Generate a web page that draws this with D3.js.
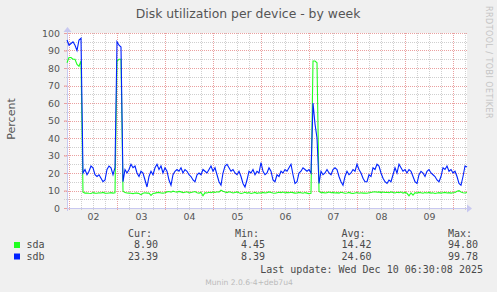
<!DOCTYPE html>
<html>
<head>
<meta charset="utf-8">
<script src="https://cdn.jsdelivr.net/npm/d3@7"></script>
<style>
  body { margin: 0; background: #f0f0f0; }
  #chart { width: 497px; height: 292px; }
  text { font-family: "DejaVu Sans", sans-serif; fill: #555; }
  .mono { font-family: "DejaVu Sans Mono", monospace; fill: #4a4a4a; }
</style>
</head>
<body>
<div id="chart"></div>
<script>
// one sample per hour, starting Dec 1 23:00
const startTime = new Date(2025, 11, 1, 23, 0);
const endTime = new Date(2025, 11, 10, 7, 0);

const sdaValues = [
  83, 86, 86, 85, 85, 82, 81, 84,
  9.0, 8.5, 8.6, 8.4, 8.3, 8.8, 8.5, 8.4, 8.7, 8.6, 8.9, 8.5, 8.4, 8.6, 8.8, 8.5, 8.7,
  84, 85, 85,
  9.6, 8.8, 8.6, 8.5, 8.4, 8.2, 8.6, 8.5, 8.3, 7.6, 8.4, 8.7, 8.5, 8.6, 7.2, 8.3, 8.5, 8.8, 8.9, 8.6, 8.5, 8.7,
  9.2, 9.4, 9.0, 9.6, 9.3, 9.1, 9.5, 9.2, 8.8, 9.0,
  9.3, 8.6, 8.9, 9.1, 9.4, 8.7, 8.5, 8.9, 7.0, 8.8,
  8.6, 9.0, 8.7, 9.2, 8.9, 9.3, 9.0, 10.2, 9.6, 9.1,
  8.8, 9.3, 9.0, 8.6, 8.9, 9.2, 8.7, 8.3, 8.6, 9.0,
  8.5, 8.8, 8.3, 8.6, 8.9, 8.4, 8.7, 8.5, 8.9, 8.6,
  8.8, 9.2, 8.9, 8.6, 8.4, 8.7, 9.0, 8.8, 9.1, 8.6, 8.9, 8.7, 9.0, 8.8, 8.5, 8.6, 8.9, 8.7, 8.4, 8.8, 8.5, 8.2, 8.4,
  84, 84, 83,
  9.4, 8.7, 8.9, 8.6, 8.8, 9.1, 8.7, 8.9, 8.6, 8.8, 8.5, 9.0, 8.7, 8.4, 8.6, 8.9, 8.5, 8.3, 8.6, 8.8, 8.4, 8.7, 8.5, 8.6,
  8.4, 8.7, 8.9, 9.1, 9.3, 9.0, 9.2, 8.8, 9.1, 8.9,
  9.0, 8.7, 9.2, 8.9, 8.6, 9.0, 8.8, 9.1, 8.5, 8.9,
  8.4, 7.0, 8.6, 7.3, 8.8, 8.5, 8.9, 8.7, 8.4, 8.8,
  8.6, 8.9, 8.5, 8.7, 8.3, 8.6, 8.8, 8.5, 8.7, 8.9,
  8.6, 8.8, 8.5, 8.7, 8.9, 9.6, 9.9, 9.2, 8.7, 8.6,
  8.9
];

const sdbValues = [
  96, 93, 94, 95, 93, 90, 96, 97,
  20, 22, 19, 21, 24, 23, 19, 18, 19, 17, 15, 16, 22, 24, 23, 19, 23,
  95, 93, 92,
  15, 22, 20, 22, 25, 23, 24, 20, 18, 21, 20, 16, 12, 18, 21, 19, 23, 25, 22, 24, 20, 23,
  21, 16, 13, 19, 21, 22, 21, 23, 20, 22,
  21, 19, 18, 16, 15, 19, 20, 19, 22, 21,
  20, 22, 24, 21, 23, 19, 15, 13, 20, 24,
  25, 23, 21, 22, 20, 19, 21, 18, 14, 12,
  16, 21, 20, 22, 19, 21, 20, 26, 21, 19,
  20, 23, 21, 16, 15, 19, 18, 21, 20, 22, 21, 23, 25, 19, 14, 15, 20, 21, 23, 22, 21, 22, 20,
  60, 48, 40,
  14, 21, 19, 20, 22, 20, 19, 22, 23, 22, 18, 15, 13, 18, 21, 19, 20, 22, 21, 25, 22, 20, 17, 15,
  15, 19, 18, 23, 22, 25, 24, 20, 17, 15,
  14, 16, 15, 19, 23, 20, 25, 23, 21, 22,
  20, 22, 21, 18, 15, 14, 19, 21, 20, 18,
  21, 22, 20, 19, 18, 16, 15, 18, 23, 22,
  24, 21, 22, 20, 21, 18, 14, 13, 18, 24,
  23.4
];

// x labels sit at noon of each day
const dayTicks = [2, 3, 4, 5, 6, 7, 8, 9].map(d => new Date(2025, 11, d, 12, 0));
const yTicks = [0, 10, 20, 30, 40, 50, 60, 70, 80, 90, 100];

const seriesNames = ["sda", "sdb"];
const curValues = ["8.90", "23.39"];
const minValues = ["4.45", "8.39"];
const avgValues = ["14.42", "24.60"];
const maxValues = ["94.80", "99.78"];
const lastUpdate = "Last update: Wed Dec 10 06:30:08 2025";

const seriesColors = ["#22ff22", "#0022ff"];

class DiskUtilVis {
  constructor(_parentElement) {
    this.parentElement = _parentElement;
    this.initVis();
  }

  initVis() {
    let vis = this;

    vis.margin = { top: 33, right: 30, bottom: 84, left: 67 };
    vis.width = 497 - vis.margin.left - vis.margin.right;
    vis.height = 292 - vis.margin.top - vis.margin.bottom;

    vis.root = d3.select("#" + vis.parentElement).append("svg")
        .attr("width", 497)
        .attr("height", 292);

    vis.root.append("rect")
        .attr("width", 497)
        .attr("height", 292)
        .attr("fill", "#f0f0f0");

    vis.svg = vis.root.append("g")
        .attr("transform", "translate(" + vis.margin.left + "," + vis.margin.top + ")");

    // plot canvas
    vis.svg.append("rect")
        .attr("width", vis.width)
        .attr("height", vis.height)
        .attr("fill", "#ffffff");

    vis.x = d3.scaleTime()
        .domain([startTime, endTime])
        .range([0, vis.width]);

    vis.y = d3.scaleLinear()
        .domain([0, 100])
        .range([vis.height, 0]);

    vis.wrangleData();
  }

  wrangleData() {
    let vis = this;

    vis.series = [sdaValues, sdbValues].map((vals, s) => ({
      name: seriesNames[s],
      color: seriesColors[s],
      values: vals.map((v, i) => ({ time: d3.timeHour.offset(startTime, i), value: v }))
    }));

    vis.updateVis();
  }

  updateVis() {
    let vis = this;
    let crisp = v => Math.round(v) + 0.5;

    // grid: minor (grey) and major (red) dotted lines
    let grid = vis.svg.append("g").attr("class", "grid");

    let sixHours = d3.timeHour.every(6).range(startTime, endTime);
    grid.selectAll(".vgrid")
        .data(sixHours)
        .enter().append("line")
        .attr("x1", d => crisp(vis.x(d)))
        .attr("x2", d => crisp(vis.x(d)))
        .attr("y1", 0)
        .attr("y2", vis.height + 2)
        .attr("stroke", d => d.getHours() === 0 ? "#eaa0a0" : "#cfcfcf")
        .attr("stroke-dasharray", "1,1");

    grid.selectAll(".hgrid")
        .data(d3.range(5, 101, 5))
        .enter().append("line")
        .attr("x1", -3)
        .attr("x2", vis.width)
        .attr("y1", d => crisp(vis.y(d)))
        .attr("y2", d => crisp(vis.y(d)))
        .attr("stroke", d => d % 10 === 0 ? "#eaa0a0" : "#cfcfcf")
        .attr("stroke-dasharray", "1,1");

    // axes lines and arrows
    let axisColor = "#c8c8f0";
    vis.svg.append("line")
        .attr("x1", -3).attr("x2", vis.width + 2)
        .attr("y1", crisp(vis.height)).attr("y2", crisp(vis.height))
        .attr("stroke", axisColor);
    vis.svg.append("line")
        .attr("x1", 0.5).attr("x2", 0.5)
        .attr("y1", -3).attr("y2", vis.height + 3)
        .attr("stroke", axisColor);
    vis.svg.append("path")
        .attr("d", `M${vis.width},${vis.height - 3.5} L${vis.width + 5},${vis.height + 0.5} L${vis.width},${vis.height + 4.5}Z`)
        .attr("fill", axisColor);
    vis.svg.append("path")
        .attr("d", "M-3.5,-1 L0.5,-6 L4.5,-1Z")
        .attr("fill", axisColor);

    // y tick labels
    vis.yAxis = d3.axisLeft(vis.y)
        .tickValues(yTicks)
        .tickSize(3)
        .tickPadding(4);
    let yG = vis.svg.append("g")
        .attr("class", "axis y-axis")
        .call(vis.yAxis);
    yG.select(".domain").remove();
    yG.selectAll(".tick line").attr("stroke", "#eaa0a0");
    yG.selectAll("text")
        .attr("font-size", "9.4px")
        .attr("font-family", "DejaVu Sans")
        .attr("fill", "#555");

    // x tick labels
    vis.xAxis = d3.axisBottom(vis.x)
        .tickValues(dayTicks)
        .tickFormat(d3.timeFormat("%d"))
        .tickSize(0)
        .tickPadding(5.5);
    let xG = vis.svg.append("g")
        .attr("class", "axis x-axis")
        .attr("transform", `translate(0, ${vis.height})`)
        .call(vis.xAxis);
    xG.select(".domain").remove();
    xG.selectAll("text")
        .attr("font-size", "9.4px")
        .attr("font-family", "DejaVu Sans")
        .attr("fill", "#555");

    // series lines, sda first so sdb sits on top
    vis.line = d3.line()
        .x(d => vis.x(d.time))
        .y(d => vis.y(d.value))
        .curve(d3.curveLinear);

    vis.svg.selectAll(".series")
        .data(vis.series)
        .enter().append("path")
        .attr("class", "series")
        .attr("fill", "none")
        .attr("stroke", d => d.color)
        .attr("stroke-width", 1.1)
        .attr("d", d => vis.line(d.values));

    // title and axis label
    vis.root.append("text")
        .attr("x", 248)
        .attr("y", 18)
        .attr("text-anchor", "middle")
        .attr("font-size", "12.4px")
        .text("Disk utilization per device - by week");

    vis.root.append("text")
        .attr("transform", "translate(15,119) rotate(-90)")
        .attr("text-anchor", "middle")
        .attr("font-size", "11px")
        .text("Percent");

    vis.root.append("text")
        .attr("transform", "translate(485.5,6) rotate(90)")
        .attr("font-size", "8px")
        .attr("letter-spacing", "0.45px")
        .style("fill", "#c4c4c4")
        .text("RRDTOOL / TOBI OETIKER");

    vis.drawLegend();
  }

  drawLegend() {
    let vis = this;
    let legend = vis.root.append("g").attr("class", "legend");
    let colStarts = [128, 235, 341.5, 448];
    let headers = ["Cur:", "Min:", "Avg:", "Max:"];
    let rowY = [248, 259.5];

    headers.forEach((h, i) => {
      legend.append("text")
          .attr("class", "mono")
          .attr("x", colStarts[i])
          .attr("y", 236.5)
          .attr("font-size", "10px")
          .text(h);
    });

    vis.series.forEach((s, r) => {
      legend.append("rect")
          .attr("x", 14)
          .attr("y", rowY[r] - 6)
          .attr("width", 6)
          .attr("height", 6)
          .attr("fill", s.color);

      legend.append("text")
          .attr("class", "mono")
          .attr("x", 26.5)
          .attr("y", rowY[r])
          .attr("font-size", "10px")
          .text(s.name);

      [curValues, minValues, avgValues, maxValues].forEach((vals, c) => {
        legend.append("text")
            .attr("class", "mono")
            .attr("x", colStarts[c] + 30.1)
            .attr("y", rowY[r])
            .attr("text-anchor", "end")
            .attr("font-size", "10px")
            .text(vals[r]);
      });
    });

    legend.append("text")
        .attr("class", "mono")
        .attr("x", 483)
        .attr("y", 273)
        .attr("text-anchor", "end")
        .attr("font-size", "10px")
        .text(lastUpdate);

    legend.append("text")
        .attr("x", 249)
        .attr("y", 285)
        .attr("text-anchor", "middle")
        .attr("font-size", "7.6px")
        .style("fill", "#bbbbbb")
        .text("Munin 2.0.6-4+deb7u4");
  }
}

new DiskUtilVis("chart");
</script>
</body>
</html>
